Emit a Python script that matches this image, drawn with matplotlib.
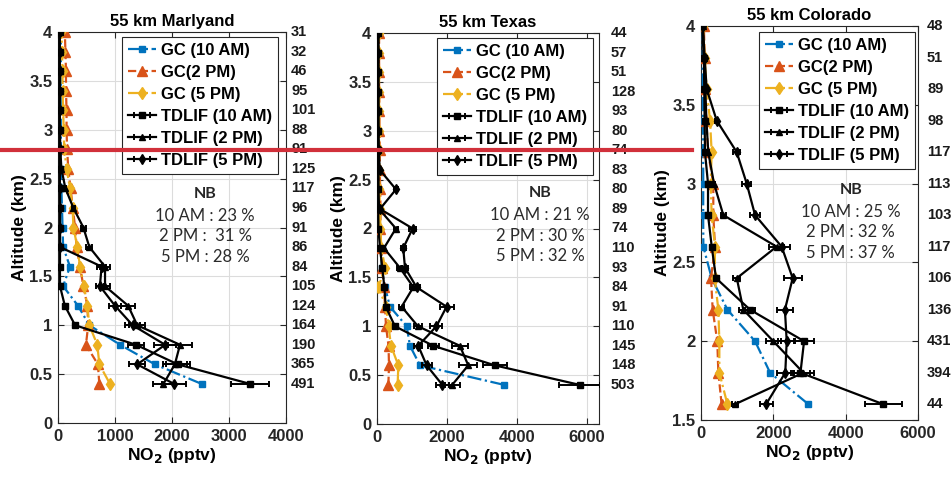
import numpy as np
import matplotlib
matplotlib.use("Agg")
import matplotlib.pyplot as plt
from matplotlib.lines import Line2D
from matplotlib.transforms import blended_transform_factory

plt.rcParams['font.family'] = ['Liberation Sans', 'DejaVu Sans']

# ---------------- data ----------------
alt_md = [0.4, 0.6, 0.8, 1.0, 1.2, 1.4, 1.6, 1.8, 2.0, 2.2, 2.4, 2.6, 2.8, 3.0, 3.2, 3.4, 3.6, 3.8, 4.0]
md_gc10 = [2520, 1700, 1090, 550, 350, 90, 210, 90, 80, 70, 60, 50, 50, 50, 50, 50, 50, 50, 50]
md_gc2 = [725, 700, 490, 530, 515, 445, 386, 327, 300, 260, 220, 180, 160, 150, 150, 140, 140, 130, 120]
md_gc5 = [912, 725, 690, 550, 515, 456, 386, 340, 270, 257, 210, 152, 110, 100, 90, 80, 80, 70, 60]
md_td10 = [3370, 2100, 1370, 300, 120, 35, 35, 35, 35, 35, 35, 30, 30, 30, 30, 30, 30, 30, 30]
md_td2 = [1850, 2050, 2140, 1390, 1230, 825, 825, 550, 445, 270, 130, 60, 40, 35, 30, 30, 30, 30, 30]
md_td5 = [2035, 1390, 1880, 1310, 1000, 735, 765, 35, 35, 35, 30, 30, 30, 30, 30, 30, 30, 30, 30]
md_counts = [491, 365, 190, 164, 124, 105, 84, 86, 91, 96, 117, 125, 91, 88, 101, 95, 46, 32, 31]
md_nb = ["10 AM : 23 %", "2 PM :  31 %", "5 PM : 28 %"]

alt_tx = alt_md
tx_gc10 = [3640, 1230, 943, 850, 370, 230, 130, 130, 60, 50, 40, 40, 40, 40, 40, 40, 40, 40, 40]
tx_gc2 = [325, 343, 330, 257, 230, 200, 150, 120, 100, 100, 90, 80, 80, 70, 70, 60, 60, 60, 60]
tx_gc5 = [590, 610, 400, 330, 260, 40, 230, 120, 100, 80, 70, 70, 60, 60, 60, 60, 60, 50, 50]
tx_td10 = [5800, 3370, 1610, 514, 250, 210, 150, 86, 40, 35, 35, 35, 35, 35, 35, 35, 35, 35, 35]
tx_td2 = [2150, 2610, 2370, 1170, 705, 1040, 650, 200, 540, 60, 40, 40, 40, 35, 35, 35, 35, 35, 35]
tx_td5 = [1870, 1420, 1180, 1700, 1990, 1130, 800, 750, 1020, 86, 543, 80, 50, 40, 35, 35, 35, 35, 35]
tx_counts = [503, 148, 145, 110, 91, 84, 93, 110, 74, 89, 80, 83, 74, 80, 93, 128, 51, 57, 44]
tx_nb = ["10 AM : 21 %", "2 PM : 30 %", "5 PM : 32 %"]

alt_co = [1.6, 1.8, 2.0, 2.2, 2.4, 2.6, 2.8, 3.0, 3.2, 3.4, 3.6, 3.8, 4.0]
co_gc10 = [2970, 1910, 1495, 730, 295, 65, 60, 62, 60, 55, 50, 50, 50]
co_gc2 = [570, 480, 450, 323, 277, 387, 340, 340, 194, 150, 100, 100, 80]
co_gc5 = [730, 507, 507, 480, 378, 387, 295, 268, 295, 249, 157, 100, 60]
co_td10 = [5040, 2750, 2850, 1355, 415, 297, 194, 194, 110, 101, 90, 80, 40]
co_td2 = [940, 2830, 2000, 1170, 990, 2090, 617, 360, 200, 150, 120, 80, 50]
co_td5 = [1800, 2330, 2370, 2320, 2535, 2230, 1495, 1264, 987, 434, 157, 100, 50]
co_counts = [44, 394, 431, 136, 106, 117, 103, 113, 117, 98, 89, 51, 48]
co_nb = ["10 AM : 25 %", "2 PM : 32 %", "5 PM : 37 %"]

ERR_FRAC = 0.10  # relative TDLIF error bars

titles = ["55 km Marlyand", "55 km Texas", "55 km Colorado"]
gc_labels = ["GC (10 AM)", "GC(2 PM)", "GC (5 PM)"]
td_labels = ["TDLIF (10 AM)", "TDLIF (2 PM)", "TDLIF (5 PM)"]

panels = [
    dict(alt=alt_md, gc=[md_gc10, md_gc2, md_gc5], td=[md_td10, md_td2, md_td5], counts=md_counts, nb=md_nb,
         rect=[58/952, 1-423/480, 228/952, 391/480], xlim=(0, 4000), xticks=[0, 1000, 2000, 3000, 4000],
         ylim=(0, 4), yticks=np.arange(0, 4.01, 0.5), leg=(0.965, 0.987), cnt_dx=5,
         nb_xy=(0.645, 0.585)),
    dict(alt=alt_tx, gc=[tx_gc10, tx_gc2, tx_gc5], td=[tx_td10, tx_td2, tx_td5], counts=tx_counts, nb=tx_nb,
         rect=[377/952, 1-424/480, 222/952, 391/480], xlim=(0, 6350), xticks=[0, 2000, 4000, 6000],
         ylim=(0, 4), yticks=np.arange(0, 4.01, 0.5), leg=(0.973, 0.987), cnt_dx=12,
         nb_xy=(0.735, 0.59)),
    dict(alt=alt_co, gc=[co_gc10, co_gc2, co_gc5], td=[co_td10, co_td2, co_td5], counts=co_counts, nb=co_nb,
         rect=[701/952, 1-420/480, 217/952, 394/480], xlim=(0, 6000), xticks=[0, 2000, 4000, 6000],
         ylim=(1.5, 4), yticks=np.arange(1.5, 4.01, 0.5), leg=(0.986, 0.985), cnt_dx=9,
         nb_xy=(0.69, 0.585)),
]

gc_colors = ["#0072BD", "#D95319", "#EDB120"]
gc_styles = ["-.", "--", "-."]
gc_markers = ["s", "^", "d"]
gc_msize = [4.5, 6.5, 6]
td_markers = ["s", "^", "d"]

fig = plt.figure(figsize=(9.52, 4.8), dpi=100)

for p, title in zip(panels, titles):
    ax = fig.add_axes(p["rect"])
    alt = np.array(p["alt"])
    handles = []
    for vals, c, ls, m, ms, lab in zip(p["gc"], gc_colors, gc_styles, gc_markers, gc_msize, gc_labels):
        h, = ax.plot(vals, alt, linestyle=ls, color=c, marker=m, markersize=ms, linewidth=1.6,
                     markerfacecolor=c, markeredgecolor=c, label=lab, zorder=3)
        handles.append(h)
    for vals, m, lab in zip(p["td"], td_markers, td_labels):
        v = np.array(vals, dtype=float)
        h = ax.errorbar(v, alt, xerr=ERR_FRAC * v, color="black", marker=m, markersize=5,
                        linewidth=1.6, elinewidth=1.4, capsize=2.5, capthick=1.4, label=lab, zorder=4)
        handles.append(h)
    ax.set_xlim(*p["xlim"])
    ax.set_ylim(*p["ylim"])
    ax.set_xticks(p["xticks"])
    ax.set_yticks(p["yticks"])
    ax.set_yticklabels([("%g" % t) for t in p["yticks"]])
    ax.grid(True, color="#dcdcdc", linewidth=0.8, zorder=0)
    ax.tick_params(direction="in", top=True, right=True, length=4, width=0.8,
                   labelsize=12, colors="#262626", pad=4)
    for lbl in ax.get_xticklabels() + ax.get_yticklabels():
        lbl.set_fontweight("bold")
    for s in ax.spines.values():
        s.set_color("#262626")
        s.set_linewidth(0.8)
    ax.set_title(title, fontsize=12, fontweight="bold", pad=4)
    ax.set_xlabel("NO$_\\mathbf{2}$ (pptv)", fontsize=12.5, fontweight="bold", labelpad=2)
    ax.set_ylabel("Altitude (km)", fontsize=12.5, fontweight="bold", labelpad=2)
    leg = ax.legend(handles=handles, loc="upper right", bbox_to_anchor=p["leg"], borderaxespad=0,
                    fancybox=False, framealpha=1, edgecolor="#262626",
                    prop=dict(weight="bold", size=12), handlelength=1.7, handletextpad=0.3,
                    labelspacing=0.42, borderpad=0.35)
    leg.get_frame().set_linewidth(0.8)
    leg.set_zorder(10)
    # right-hand counts
    tr = blended_transform_factory(ax.transAxes, ax.transData)
    for a, c in zip(alt, p["counts"]):
        ax.annotate(str(c), xy=(1.0, a), xycoords=tr, xytext=(p["cnt_dx"] * 0.72, 0),
                    textcoords="offset points", ha="left", va="center",
                    fontsize=10.5, fontweight="bold", color="#1a1a1a", annotation_clip=False)
    # NB text
    nx, ny = p["nb_xy"]
    ax.text(nx, ny, "NB", transform=ax.transAxes, ha="center", va="center",
            fontsize=11.5, fontweight="bold", family=["Lato", "DejaVu Sans"], color="#262626", zorder=11)
    for i, s in enumerate(p["nb"]):
        ax.text(nx, ny - 0.056 - i * 0.052, s, transform=ax.transAxes, ha="center", va="center",
                fontsize=12, family=["Lato", "DejaVu Sans"], color="#2b2b2b", zorder=11)

# red horizontal annotation line across the figure
fig.add_artist(Line2D([0, 692/952], [1-150/480, 1-150/480], transform=fig.transFigure,
                      color="#d1303a", linewidth=3, zorder=20))

fig.savefig("out.png", dpi=100)
